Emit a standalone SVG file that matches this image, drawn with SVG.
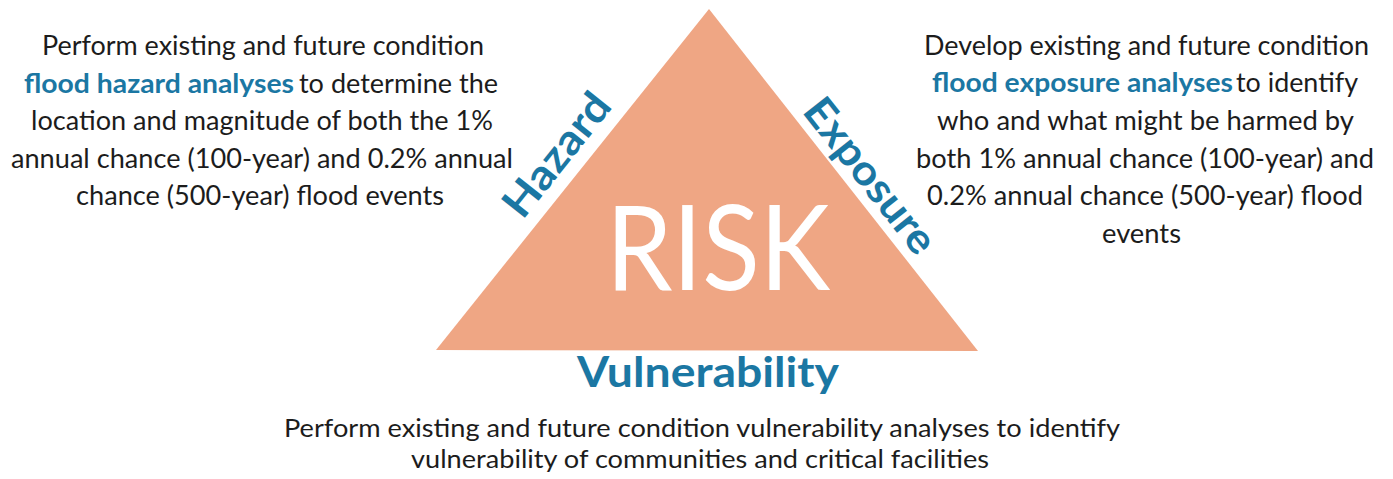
<svg xmlns="http://www.w3.org/2000/svg" width="1393" height="479" viewBox="0 0 1393 479">
  <style>
    .body { font-family: Lato, "Open Sans", sans-serif; font-size: 27px; fill: #1c1c1c; }
    .small { font-size: 25px; }
    .hl { font-family: Lato, "Open Sans", sans-serif; font-weight: bold; font-size: 27px; fill: #1b77a3; }
    .label { font-family: Lato, "Open Sans", sans-serif; font-weight: bold; font-size: 42px; fill: #1b77a3; }
    .risk { font-family: Lato, "Open Sans", sans-serif; font-size: 118px; fill: #ffffff; }
  </style>
  <rect x="0" y="0" width="1393" height="479" fill="#ffffff"/>

  <g id="risk">
    <polygon points="709,9 436,350 978,351" fill="#efa684"/>
    <text class="risk" x="718" y="290" text-anchor="middle" textLength="224" lengthAdjust="spacingAndGlyphs">RISK</text>
  </g>

  <g id="hazard">
    <text class="label" transform="translate(557,155) rotate(-51.4)" x="0" y="14" text-anchor="middle" textLength="146" lengthAdjust="spacingAndGlyphs">Hazard</text>
  </g>

  <g id="exposure">
    <text class="label" transform="translate(870,176) rotate(51.7)" x="0" y="14" text-anchor="middle" textLength="186" lengthAdjust="spacingAndGlyphs">Exposure</text>
  </g>

  <g id="vulnerability">
    <text class="label" x="708" y="387" text-anchor="middle" textLength="262" lengthAdjust="spacingAndGlyphs">Vulnerability</text>
  </g>

  <g id="hazard-text">
    <text class="body" x="42" y="55" textLength="442" lengthAdjust="spacingAndGlyphs">Perform existing and future condition</text>
    <text class="hl" x="24" y="93" textLength="270" lengthAdjust="spacingAndGlyphs">flood hazard analyses</text>
    <text class="body" x="299" y="93" textLength="199" lengthAdjust="spacingAndGlyphs">to determine the</text>
    <text class="body" x="31" y="130" textLength="462" lengthAdjust="spacingAndGlyphs">location and magnitude of both the 1%</text>
    <text class="body" x="11" y="168" textLength="502" lengthAdjust="spacingAndGlyphs">annual chance (100-year) and 0.2% annual</text>
    <text class="body" x="76" y="205" textLength="368" lengthAdjust="spacingAndGlyphs">chance (500-year) flood events</text>
  </g>

  <g id="exposure-text">
    <text class="body" x="924" y="55" textLength="445" lengthAdjust="spacingAndGlyphs">Develop existing and future condition</text>
    <text class="hl" x="932" y="92" textLength="301" lengthAdjust="spacingAndGlyphs">flood exposure analyses</text>
    <text class="body" x="1236" y="92" textLength="122" lengthAdjust="spacingAndGlyphs">to identify</text>
    <text class="body" x="937" y="130" textLength="417" lengthAdjust="spacingAndGlyphs">who and what might be harmed by</text>
    <text class="body" x="916" y="168" textLength="458" lengthAdjust="spacingAndGlyphs">both 1% annual chance (100-year) and</text>
    <text class="body" x="927" y="205" textLength="436" lengthAdjust="spacingAndGlyphs">0.2% annual chance (500-year) flood</text>
    <text class="body" x="1102" y="243" textLength="79" lengthAdjust="spacingAndGlyphs">events</text>
  </g>

  <g id="vulnerability-text">
    <text class="body small" x="284" y="437" textLength="836" lengthAdjust="spacingAndGlyphs">Perform existing and future condition vulnerability analyses to identify</text>
    <text class="body small" x="411" y="468" textLength="578" lengthAdjust="spacingAndGlyphs">vulnerability of communities and critical facilities</text>
  </g>
</svg>
